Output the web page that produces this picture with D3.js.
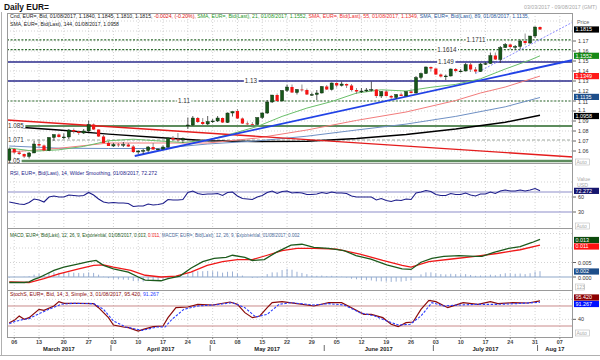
<!DOCTYPE html>
<html><head><meta charset="utf-8">
<script src="https://cdn.jsdelivr.net/npm/d3@7"></script>
<style>body{margin:0;background:#fff}text{font-family:"Liberation Sans",Arial,sans-serif}</style>
</head><body><svg id="c" width="600" height="360"></svg>
<script>
// ---------------- DATA ----------------
const dates = ["2017-03-03","2017-03-06","2017-03-07","2017-03-08","2017-03-09","2017-03-10","2017-03-13","2017-03-14","2017-03-15","2017-03-16","2017-03-17","2017-03-20","2017-03-21","2017-03-22","2017-03-23","2017-03-24","2017-03-27","2017-03-28","2017-03-29","2017-03-30","2017-03-31",
"2017-04-03","2017-04-04","2017-04-05","2017-04-06","2017-04-07","2017-04-10","2017-04-11","2017-04-12","2017-04-13","2017-04-14","2017-04-17","2017-04-18","2017-04-19","2017-04-20","2017-04-21","2017-04-24","2017-04-25","2017-04-26","2017-04-27","2017-04-28",
"2017-05-01","2017-05-02","2017-05-03","2017-05-04","2017-05-05","2017-05-08","2017-05-09","2017-05-10","2017-05-11","2017-05-12","2017-05-15","2017-05-16","2017-05-17","2017-05-18","2017-05-19","2017-05-22","2017-05-23","2017-05-24","2017-05-25","2017-05-26","2017-05-29","2017-05-30","2017-05-31",
"2017-06-01","2017-06-02","2017-06-05","2017-06-06","2017-06-07","2017-06-08","2017-06-09","2017-06-12","2017-06-13","2017-06-14","2017-06-15","2017-06-16","2017-06-19","2017-06-20","2017-06-21","2017-06-22","2017-06-23","2017-06-26","2017-06-27","2017-06-28","2017-06-29","2017-06-30",
"2017-07-03","2017-07-04","2017-07-05","2017-07-06","2017-07-07","2017-07-10","2017-07-11","2017-07-12","2017-07-13","2017-07-14","2017-07-17","2017-07-18","2017-07-19","2017-07-20","2017-07-21","2017-07-24","2017-07-25","2017-07-26","2017-07-27","2017-07-28","2017-07-31",
"2017-08-01"];
const open  = [1.0508,1.0620,1.0585,1.0570,1.0545,1.0580,1.0670,1.0655,1.0605,1.0735,1.0765,1.0740,1.0740,1.0810,1.0795,1.0780,1.0800,1.0865,1.0815,1.0745,1.0680,
1.0650,1.0665,1.0660,1.0665,1.0645,1.0590,1.0600,1.0605,1.0640,1.0615,1.0620,1.0640,1.0730,1.0715,1.0710,1.0860,1.0860,1.0930,1.0890,1.0870,
1.0895,1.0900,1.0930,1.0885,1.0980,1.1000,1.0925,1.0875,1.0870,1.0865,1.0935,1.0980,1.1090,1.1160,1.1100,1.1205,1.1240,1.1185,1.1215,1.1210,1.1165,1.1165,1.1180,
1.1245,1.1215,1.1280,1.1255,1.1270,1.1255,1.1210,1.1195,1.1200,1.1210,1.1215,1.1150,1.1195,1.1150,1.1135,1.1165,1.1150,1.1195,1.1180,1.1335,1.1375,1.1440,
1.1425,1.1365,1.1345,1.1350,1.1420,1.1400,1.1400,1.1465,1.1415,1.1395,1.1470,1.1475,1.1555,1.1515,1.1635,1.1665,1.1640,1.1645,1.1700,1.1680,1.1750,
1.1840];
const high  = [1.0633,1.0630,1.0600,1.0575,1.0590,1.0700,1.0715,1.0665,1.0740,1.0765,1.0775,1.0775,1.0820,1.0825,1.0805,1.0820,1.0905,1.0875,1.0815,1.0760,1.0700,
1.0680,1.0680,1.0690,1.0680,1.0660,1.0610,1.0620,1.0650,1.0680,1.0625,1.0655,1.0735,1.0750,1.0780,1.0735,1.0935,1.0950,1.0940,1.0930,1.0950,
1.0920,1.0950,1.0935,1.0985,1.0995,1.1020,1.0935,1.0895,1.0890,1.0935,1.0985,1.1110,1.1160,1.1175,1.1210,1.1265,1.1265,1.1220,1.1265,1.1225,1.1185,1.1210,1.1250,
1.1260,1.1285,1.1285,1.1295,1.1275,1.1270,1.1230,1.1230,1.1230,1.1295,1.1220,1.1200,1.1210,1.1160,1.1170,1.1185,1.1195,1.1215,1.1350,1.1385,1.1445,1.1445,
1.1425,1.1375,1.1365,1.1425,1.1430,1.1420,1.1480,1.1490,1.1440,1.1480,1.1490,1.1585,1.1585,1.1650,1.1680,1.1670,1.1660,1.1715,1.1775,1.1750,1.1845,
1.1845];
const low   = [1.0495,1.0570,1.0560,1.0530,1.0525,1.0580,1.0640,1.0605,1.0600,1.0700,1.0735,1.0720,1.0720,1.0775,1.0760,1.0770,1.0790,1.0810,1.0740,1.0680,1.0650,
1.0640,1.0640,1.0640,1.0640,1.0580,1.0570,1.0570,1.0590,1.0610,1.0610,1.0615,1.0630,1.0700,1.0690,1.0680,1.0820,1.0850,1.0880,1.0850,1.0860,
1.0880,1.0890,1.0880,1.0880,1.0945,1.0920,1.0870,1.0860,1.0840,1.0860,1.0920,1.0970,1.1080,1.1090,1.1100,1.1190,1.1180,1.1165,1.1195,1.1160,1.1150,1.1110,1.1175,
1.1210,1.1205,1.1235,1.1245,1.1230,1.1195,1.1170,1.1180,1.1190,1.1195,1.1130,1.1130,1.1145,1.1120,1.1120,1.1150,1.1150,1.1175,1.1175,1.1315,1.1370,1.1395,
1.1360,1.1335,1.1310,1.1345,1.1385,1.1385,1.1395,1.1390,1.1375,1.1390,1.1460,1.1470,1.1510,1.1480,1.1630,1.1620,1.1610,1.1620,1.1660,1.1670,1.1730,
1.1810];
const close = [1.0620,1.0585,1.0570,1.0545,1.0580,1.0670,1.0655,1.0605,1.0735,1.0765,1.0740,1.0740,1.0810,1.0795,1.0780,1.0800,1.0865,1.0815,1.0745,1.0680,1.0650,
1.0665,1.0660,1.0665,1.0645,1.0590,1.0600,1.0605,1.0640,1.0615,1.0620,1.0640,1.0730,1.0715,1.0710,1.0725,1.0860,1.0930,1.0890,1.0870,1.0895,
1.0900,1.0930,1.0885,1.0980,1.0995,1.0925,1.0875,1.0870,1.0865,1.0935,1.0980,1.1090,1.1160,1.1100,1.1205,1.1240,1.1185,1.1215,1.1210,1.1165,1.1165,1.1180,1.1245,
1.1215,1.1280,1.1255,1.1270,1.1255,1.1210,1.1195,1.1200,1.1210,1.1215,1.1150,1.1195,1.1150,1.1135,1.1165,1.1150,1.1195,1.1180,1.1335,1.1375,1.1440,1.1425,
1.1365,1.1345,1.1350,1.1420,1.1400,1.1400,1.1465,1.1415,1.1395,1.1470,1.1475,1.1555,1.1515,1.1635,1.1665,1.1640,1.1645,1.1700,1.1680,1.1750,1.1840,
1.1815];

// moving averages, read at sampled trading-day positions
const smaIdx    = [0,5,10,15,20,25,30,35,40,45,50,55,60,65,70,75,80,85,90,95,100,105,107];
const sma21     = [1.0630,1.0598,1.0612,1.0646,1.0702,1.0718,1.0701,1.0685,1.0710,1.0774,1.0845,1.0946,1.1029,1.1095,1.1179,1.1212,1.1200,1.1237,1.1266,1.1322,1.1420,1.1510,1.1552];
const sma55Idx  = [0,10,20,30,40,50,60,70,80,90,95,100,107];
const sma55     = [1.0590,1.0627,1.0680,1.0680,1.0680,1.0730,1.0810,1.0906,1.0990,1.1105,1.1180,1.1240,1.1349];
const sma89Idx  = [0,10,20,30,40,50,60,70,80,90,100,107];
const sma89     = [1.0650,1.0628,1.0625,1.0625,1.0670,1.0701,1.0748,1.0810,1.0869,1.0946,1.1042,1.1135];
const sma144Idx = [0,10,20,30,40,50,60,70,80,90,100,107];
const sma144    = [1.0845,1.0810,1.0769,1.0735,1.0703,1.0695,1.0698,1.0725,1.0765,1.0820,1.0887,1.0958];

// drawn levels and trend lines
const levelValues = [1.1711,1.1614,1.149,1.13,1.11,1.085,1.071,1.05];
const levelLabels = ["1.1711","1.1614","1.149","1.13","1.11","1.085","1.071","1.05"];
const redTrendIdx  = [-0.46,113.65], redTrendVal  = [1.0910,1.0540];
const blueTrendIdx = [25.3,113.65],  blueTrendVal = [1.0550,1.1510];
const dashTrendIdx = [94,113.65],    dashTrendVal = [1.1375,1.1890];

// price axis
const priceTicks = [1.17,1.16,1.15,1.14,1.13,1.12,1.11,1.10,1.09,1.08,1.07,1.06];
const priceTickLabels = ["1.17","1.16","1.15","1.14","1.13","1.12","1.11","1.1","1.09","1.08","1.07","1.06"];

// RSI (14, Wilder) per trading day
const rsi = [50,48,46,45,49,56,54,50,60,62,60,60,64,63,62,63,69,64,56,50,48,
49,48,48,47,41,42,42,46,44,45,47,55,54,54,55,69,72,67,65,66,
66,67,63,69,70,62,57,56,55,60,63,69,72,67,71,72,68,69,68,65,65,66,69,
67,70,68,68,67,62,60,60,60,60,54,57,53,51,54,53,56,55,68,70,73,71,
65,63,63,67,65,65,68,64,62,66,66,70,67,72,74,72,72,74,72,74,77,
72.272];

// MACD (12,26,9)
const macdIdx = [0,3,4,5,6,7,9,11,14,16,17.5,19,21,24,26,27.4,30.6,32,34.4,36.6,39,41.3,43.7,45,47.5,49,51.4,53.8,56.8,59,61.4,64.4,67.5,69.9,72.9,76.1,79.2,81,83,85.2,87.6,90.7,93.9,95.3,97.7,100.7,103,105.4,107];
const macdVal = [-0.0019,-0.0019,-0.0017,-0.0008,-0.0002,0.0006,0.0023,0.0034,0.0045,0.0053,0.0057,0.0040,0.0028,0.0017,0.0000,-0.0011,-0.0013,-0.0006,0.0003,0.0030,0.0053,0.0064,0.0068,0.0075,0.0068,0.0057,0.0060,0.0085,0.0110,0.0113,0.0102,0.0099,0.0091,0.0074,0.0062,0.0042,0.0028,0.0026,0.0051,0.0064,0.0071,0.0074,0.0071,0.0071,0.0085,0.0099,0.0105,0.0119,0.0130];
const signalIdx = [0,4,7,10,14,17,19,21,24.5,27.4,30.6,33.6,36.6,39.9,43,46,49,52,55,58,61.4,66,70.7,75.3,79.2,81,84.6,89.2,93.9,98.3,103,107];
const signalVal = [-0.0017,-0.0019,-0.0006,0.0011,0.0028,0.0040,0.0042,0.0034,0.0023,0.0006,0.0000,0.0003,0.0017,0.0040,0.0053,0.0060,0.0060,0.0075,0.0091,0.0099,0.0099,0.0096,0.0079,0.0057,0.0040,0.0034,0.0053,0.0062,0.0071,0.0081,0.0094,0.0110];
const macdHist = [-0.2,-0.1,0.0,0.1,0.3,0.8,1.1,1.0,1.5,1.6,1.5,1.4,1.6,1.5,1.4,1.3,1.6,1.4,0.8,0.1,-0.4,
-0.6,-0.8,-0.9,-1.0,-1.4,-1.5,-1.6,-1.4,-1.4,-1.3,-1.1,-0.6,-0.3,-0.1,0.1,1.0,1.8,2.0,2.0,2.1,
2.0,1.9,1.5,1.8,1.9,1.2,0.5,0.0,-0.3,-0.2,0.2,1.0,1.6,1.6,2.4,2.8,2.5,1.8,1.4,1.0,0.6,0.4,0.5,
0.3,0.4,0.2,0.1,-0.2,-0.6,-0.8,-1.0,-1.1,-1.2,-1.5,-1.5,-1.6,-1.7,-1.6,-1.6,-1.4,-1.2,0.0,0.9,1.6,1.6,
1.2,1.0,0.9,1.1,1.0,0.9,1.0,0.7,0.4,0.5,0.5,0.8,0.6,1.0,1.3,1.2,1.1,1.2,1.0,1.3,1.9,
2.0]; // x 0.001

// Slow stochastic (14,3,3)
const stochKIdx = [0,1,2,3,4,6,7,9,10,11,14,17,18,20,21,23,24,26,27,29,31,32,33.6,36,38,41,44.5,46,47.5,49,50.5,52,53,55,58,61.4,64.4,67,69,71.5,73,75.3,77,78.4,80,81.4,83,84.6,86,88.4,91.5,94.5,97,98.5,101.5,104.6,107];
const stochK    = [30,37,50,40,45,70,67,80,93,88,88,87,75,45,23,17,15,5,10,18,20,45,75,77,85,83,92,85,60,45,50,75,90,93,87,80,90,90,75,55,55,45,25,18,30,32,70,97,93,75,90,85,93,87,90,89,95.42];
const stochDIdx = [0,1,3,4,6,8,10.4,12.8,17,19,21,23.5,26.8,29.8,31.4,32.8,35.2,38,41.3,45,47.5,49.7,52,54.4,56.8,61.4,64.4,67.5,70.7,73.7,76.1,78.4,80.8,83,85.2,87.6,90.7,94.5,98.5,102.4,107];
const stochD    = [27,33,40,42,57,70,85,88,87,70,35,17,7,17,17,40,70,80,83,90,75,47,55,85,90,83,87,83,60,50,35,23,25,50,90,80,83,85,85,87,91.267];

// date axis
const tickDates  = ["2017-03-06","2017-03-13","2017-03-20","2017-03-27","2017-04-03","2017-04-10","2017-04-17","2017-04-24","2017-05-01","2017-05-08","2017-05-15","2017-05-22","2017-05-29","2017-06-05","2017-06-12","2017-06-19","2017-06-26","2017-07-03","2017-07-10","2017-07-17","2017-07-24","2017-07-31","2017-08-07"];
const tickLabels = ["06","13","20","27","03","10","17","24","01","08","15","22","29","05","12","19","26","03","10","17","24","31","07"];
const monthLabels = ["March 2017","April 2017","May 2017","June 2017","July 2017","Aug 17"];
const monthStarts = ["2017-03-03","2017-04-03","2017-05-01","2017-06-01","2017-07-03","2017-08-01","2017-08-10"];

// ---------------- DRAW ----------------
const svg = d3.select("#c");
svg.append("rect").attr("width",600).attr("height",360).attr("fill","#fff");
const L=7,R=573;
const P={main:[13,163],rsi:[163,228],macd:[228,290],stoch:[290,337]};
function tIdx(s){const st=Date.UTC(2017,2,3),d=Date.parse(s+"T00:00:00Z");let n=0;for(let t=st;t<d;t+=864e5){const w=new Date(t).getUTCDay();if(w!==0&&w!==6)n++;}return n;}
const x = d3.scaleLinear().domain([-0.46,113.65]).range([L,R]);
const yP = d3.scaleLinear().domain([1.048,1.198]).range([163,13]);
const yR = d3.scaleLinear().domain([0,100]).range([227,177]);
const yM = d3.scaleLinear().domain([0,0.01]).range([277,248]);
const yS = d3.scaleLinear().domain([0,100]).range([332.67,299.33]);

const defs=svg.append("defs");
Object.entries(P).forEach(([k,v])=>{defs.append("clipPath").attr("id","cl-"+k).append("rect").attr("x",L).attr("y",v[0]).attr("width",R-L).attr("height",v[1]-v[0]);});
const g = k=>svg.append("g").attr("clip-path",`url(#cl-${k})`);

// outer frame
svg.append("line").attr("x1",1.5).attr("x2",1.5).attr("y1",12).attr("y2",356).attr("stroke","#b0b0b0");
svg.append("line").attr("x1",0).attr("x2",600).attr("y1",355.5).attr("y2",355.5).attr("stroke","#b0b0b0");

// grids
const tickX = tickDates.map(d=>x(tIdx(d)));
const grid = svg.append("g").attr("stroke","#c8c8c8").attr("stroke-width",0.8).attr("stroke-dasharray","1,2");
Object.values(P).forEach(v=>{tickX.forEach(tx=>grid.append("line").attr("x1",tx).attr("x2",tx).attr("y1",v[0]).attr("y2",v[1]));});
priceTicks.concat([1.18,1.19]).forEach(p=>grid.append("line").attr("x1",L).attr("x2",R).attr("y1",yP(p)).attr("y2",yP(p)));
[90,60].forEach(v=>grid.append("line").attr("x1",L).attr("x2",R).attr("y1",yR(v)).attr("y2",yR(v)));
[0.005,0.010,0.015].forEach(v=>grid.append("line").attr("x1",L).attr("x2",R).attr("y1",yM(v)).attr("y2",yM(v)));
[40,100].forEach(v=>grid.append("line").attr("x1",L).attr("x2",R).attr("y1",yS(v)).attr("y2",yS(v)));

// ---- main panel
const gm = g("main");
const lvlStyle = [
 {c:"#2f6b2f",w:1.2,d:"2,1.6",lx:476},{c:"#2f6b2f",w:1.2,d:"2,1.6",lx:447},
 {c:"#2b2b8c",w:1.3,d:null,lx:446},{c:"#2b2b8c",w:1.3,d:null,lx:251},
 {c:"#2f6b2f",w:1.2,d:"2,1.6",lx:184},{c:"#5d8c5d",w:2,d:null,lx:16},
 {c:"#a0aaa0",w:1.2,d:"3,2",lx:16},{c:"#5d8c5d",w:2.6,d:null,lx:14}];
levelValues.forEach((v,i)=>{const s=lvlStyle[i];
 gm.append("line").attr("x1",L).attr("x2",R).attr("y1",yP(v)).attr("y2",yP(v)).attr("stroke",s.c).attr("stroke-width",s.w).attr("stroke-dasharray",s.d);});
const line=(xs,ys,sc)=>d3.line().x((d,i)=>x(xs[i])).y((d,i)=>sc(ys[i]))(ys);
gm.append("path").attr("d",line(sma144Idx,sma144,yP)).attr("fill","none").attr("stroke","#000").attr("stroke-width",1.4);
gm.append("path").attr("d",line(sma89Idx,sma89,yP)).attr("fill","none").attr("stroke","#6f90c4").attr("stroke-width",1);
gm.append("path").attr("d",line(sma55Idx,sma55,yP)).attr("fill","none").attr("stroke","#f27c7c").attr("stroke-width",1);
gm.append("path").attr("d",line(smaIdx,sma21,yP)).attr("fill","none").attr("stroke","#6abf6a").attr("stroke-width",1);
gm.append("path").attr("d",line(redTrendIdx,redTrendVal,yP)).attr("fill","none").attr("stroke","#e41c1c").attr("stroke-width",1.4);
gm.append("path").attr("d",line(blueTrendIdx,blueTrendVal,yP)).attr("fill","none").attr("stroke","#2142e6").attr("stroke-width",1.8);
gm.append("path").attr("d",line(dashTrendIdx,dashTrendVal,yP)).attr("fill","none").attr("stroke","#8080ff").attr("stroke-width",0.9).attr("stroke-dasharray","2,1.5");
// level labels
levelValues.forEach((v,i)=>{const s=lvlStyle[i];
 const t=gm.append("text").attr("x",s.lx).attr("y",yP(v)+2.2).attr("text-anchor","middle").attr("font-size",6.3).attr("fill","#333").text(levelLabels[i]);
 const bb=t.node().getBBox();
 gm.insert("rect","text").attr("x",bb.x-1).attr("y",yP(v)-2).attr("width",bb.width+2).attr("height",4).attr("fill","#fff");
});
gm.selectAll("text").raise();
// candles
const cg = gm.append("g");
close.forEach((c,i)=>{const o=open[i],up=c>=o,cx=x(i);
 cg.append("line").attr("x1",cx).attr("x2",cx).attr("y1",yP(high[i])).attr("y2",yP(low[i])).attr("stroke",up?"#333":"#777").attr("stroke-width",0.8);
 const y1=yP(Math.max(o,c)),y2=yP(Math.min(o,c));
 cg.append("rect").attr("x",cx-1.6).attr("width",3.2).attr("y",y1).attr("height",Math.max(0.8,y2-y1))
  .attr("fill",up?"#17561a":"#f41414").attr("stroke",up?"#0a2a0a":"none").attr("stroke-width",0.4);
});

// ---- RSI
const gr = g("rsi");
[70,30].forEach(v=>gr.append("line").attr("x1",L).attr("x2",R).attr("y1",yR(v)).attr("y2",yR(v)).attr("stroke","#8d8dc9").attr("stroke-width",1.2));
gr.append("path").attr("d",d3.line().x((d,i)=>x(i)).y(d=>yR(d))(rsi)).attr("fill","none").attr("stroke","#1d1d8a").attr("stroke-width",1.1);

// ---- MACD
const gd = g("macd");
gd.append("line").attr("x1",L).attr("x2",R).attr("y1",yM(0)).attr("y2",yM(0)).attr("stroke","#8ea7c8").attr("stroke-width",1);
macdHist.forEach((h,i)=>gd.append("line").attr("x1",x(i)).attr("x2",x(i)).attr("y1",yM(0)).attr("y2",yM(h/1000)).attr("stroke","#8ea7cf").attr("stroke-width",0.9));
gd.append("path").attr("d",line(signalIdx,signalVal,yM)).attr("fill","none").attr("stroke","#f01818").attr("stroke-width",1.3);
gd.append("path").attr("d",line(macdIdx,macdVal,yM)).attr("fill","none").attr("stroke","#1c5a1c").attr("stroke-width",1.3);

// ---- Stoch
const gs = g("stoch");
[80,20].forEach(v=>gs.append("line").attr("x1",L).attr("x2",R).attr("y1",yS(v)).attr("y2",yS(v)).attr("stroke","#c98a8a").attr("stroke-width",1));
gs.append("path").attr("d",line(stochKIdx,stochK,yS)).attr("fill","none").attr("stroke","#8b0a0a").attr("stroke-width",1.2);
gs.append("path").attr("d",line(stochDIdx,stochD,yS)).attr("fill","none").attr("stroke","#2a3cff").attr("stroke-width",1.1).attr("stroke-dasharray","2.5,1.5");

// panel borders
Object.values(P).forEach(v=>svg.append("rect").attr("x",L+0.5).attr("y",v[0]+0.5).attr("width",R-L-1).attr("height",v[1]-v[0]).attr("fill","none").attr("stroke","#9a9a9a").attr("stroke-width",1));

// ---- texts
svg.append("text").attr("x",4).attr("y",10).attr("font-size",8.4).attr("font-weight","bold").attr("fill","#111").text("Daily EUR=");
svg.append("text").attr("x",597).attr("y",9).attr("text-anchor","end").attr("font-size",5.2).attr("fill","#a8a8a8").text("03/03/2017 - 09/08/2017 (GMT)");
function legend(y,parts,len){const t=svg.append("text").attr("x",10).attr("y",y).attr("font-size",5.3);
 parts.forEach(p=>t.append("tspan").attr("fill",p[1]).text(p[0]));
 const nat=t.node().getComputedTextLength();
 t.attr("font-size",Math.min(5.6,5.3*len/nat));}
legend(17.5,[["Cnd, EUR=, Bid, 01/08/2017, 1.1840, 1.1845, 1.1810, 1.1815, ","#222"],["-0.0024, (-0.20%), ","#e01010"],["SMA, EUR=, Bid(Last), 21, 01/08/2017, 1.1552, ","#1f9a1f"],["SMA, EUR=, Bid(Last), 55, 01/08/2017, 1.1349, ","#f03030"],["SMA, EUR=, Bid(Last), 89, 01/08/2017, 1.1135, ","#2a5aa0"]],520);
legend(25.5,[["SMA, EUR=, Bid(Last), 144, 01/08/2017, 1.0958","#222"]],109);
legend(175,[["RSI, EUR=, Bid(Last), 14, Wilder Smoothing, 01/08/2017, 72.272","#1d1d8a"]],147);
legend(237,[["MACD, EUR=, Bid(Last), 12, 26, 9, Exponential, 01/08/2017, 0.013, ","#1c5a1c"],["0.011, ","#f01818"],["MACDF, EUR=, Bid(Last), 12, 26, 9, Exponential, 01/08/2017, 0.002","#4a6a9a"]],290);
legend(296,[["StochS, EUR=, Bid, 14, 3, Simple, 3, 01/08/2017, 95.420, ","#8b0a0a"],["91.267","#2a3cff"]],149);

// right axis
const tickNudge = {"1.11":1,"1.1":-1.2};
const ax = svg.append("g").attr("font-size",5.4).attr("fill","#333");
priceTicks.forEach((p,i)=>{ax.append("line").attr("x1",R).attr("x2",R+3).attr("y1",yP(p)).attr("y2",yP(p)).attr("stroke","#666");
 ax.append("text").attr("x",R+5).attr("y",yP(p)+1.9+(tickNudge[priceTickLabels[i]]||0)).text(priceTickLabels[i]);});
ax.append("text").attr("x",R+4).attr("y",24).attr("fill","#666").text("Price");
function box(yc,txt,bg){svg.append("rect").attr("x",R+1).attr("y",yc-3.1).attr("width",25).attr("height",6.2).attr("fill",bg);
 svg.append("text").attr("x",R+2.5).attr("y",yc+1.9).attr("font-size",5.4).attr("fill","#fff").text(txt);}
box(yP(1.1815),"1.1815","#000");
box(yP(1.1552),"1.1552","#178a17");
box(yP(1.1349),"1.1349","#ff1a1a");
box(yP(1.1135)-0.6,"1.1135","#1d4e8a");
box(yP(1.0958)+0.8,"1.0958","#000");
function auto(yc,t){svg.append("rect").attr("x",R+2.5).attr("y",yc-3).attr("width",t==="123"?9:14).attr("height",6).attr("fill","#fff").attr("stroke","#bbb").attr("stroke-width",0.6);
 svg.append("text").attr("x",R+3.5).attr("y",yc+2).attr("font-size",5).attr("fill","#aaa").text(t);}
auto(162,"Auto");auto(226,"Auto");auto(287,"123");auto(333,"Auto");
// RSI axis
svg.append("text").attr("x",R+4).attr("y",181).attr("font-size",5.3).attr("fill","#aaa").text("Value");
svg.append("text").attr("x",R+4).attr("y",187).attr("font-size",5.3).attr("fill","#aaa").text("USD");
[[60,"60"],[30,"30"]].forEach(([v,t])=>{svg.append("line").attr("x1",R).attr("x2",R+3).attr("y1",yR(v)).attr("y2",yR(v)).attr("stroke","#666");svg.append("text").attr("x",R+5).attr("y",yR(v)+2).attr("font-size",5.4).attr("fill","#333").text(t);});
box(yR(72.272),"72.272","#16166e");
// MACD axis
[[0.005,"0.005"],[0,"0.000"]].forEach(([v,t])=>{svg.append("line").attr("x1",R).attr("x2",R+3).attr("y1",yM(v)).attr("y2",yM(v)).attr("stroke","#666");svg.append("text").attr("x",R+5).attr("y",yM(v)+2.5).attr("font-size",5.4).attr("fill","#333").text(t);});
box(240,"0.013","#0c4a0c");
box(246.5,"0.011","#ff1010");
box(271.5,"0.002","#1d4e8a");
// Stoch axis
svg.append("line").attr("x1",R).attr("x2",R+3).attr("y1",yS(40)).attr("y2",yS(40)).attr("stroke","#666");
svg.append("text").attr("x",R+5).attr("y",yS(40)+2).attr("font-size",5.4).attr("fill","#333").text("40");
box(297.5,"95.420","#8b0000");
box(304,"91.267","#0010ff");

// date axis
tickX.forEach((tx,i)=>{svg.append("line").attr("x1",tx).attr("x2",tx).attr("y1",337).attr("y2",339).attr("stroke","#888");
 svg.append("text").attr("x",tx).attr("y",343.5).attr("text-anchor","middle").attr("font-size",5.4).attr("font-weight","bold").attr("fill","#444").text(tickLabels[i]);});
monthLabels.forEach((m,i)=>{const a=tIdx(monthStarts[i]),b=tIdx(monthStarts[i+1])-1;
 svg.append("text").attr("x",x((a+b)/2)).attr("y",350.5).attr("text-anchor","middle").attr("font-size",5.8).attr("font-weight","bold").attr("fill","#222").text(m);
 if(i>0) svg.append("line").attr("x1",x(a-0.5)).attr("x2",x(a-0.5)).attr("y1",345).attr("y2",351).attr("stroke","#444").attr("stroke-width",0.8);});
</script></body></html>
